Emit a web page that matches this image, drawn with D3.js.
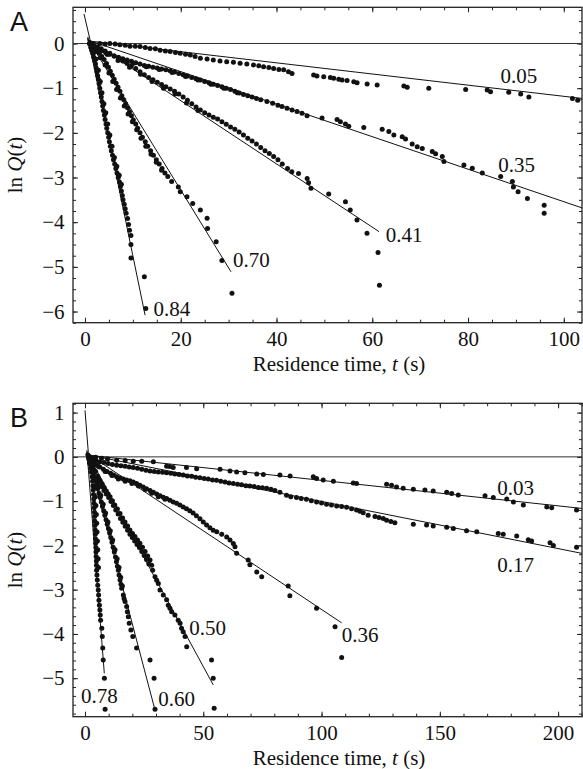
<!DOCTYPE html>
<html>
<head>
<meta charset="utf-8">
<script src="https://cdnjs.cloudflare.com/ajax/libs/d3/7.8.5/d3.min.js"></script>
<style>
  body { margin: 0; background: #fff; }
  svg text { font-family: "Liberation Serif", "Times New Roman", serif; }
</style>
</head>
<body>
<script>
// ---- panel A : points [t, lnQ] ----
var a005 = [[1.5,0.0],[3.1,0.0],[4.2,-0.01],[5.2,0.0],[6.3,-0.01],[7.3,-0.03],[8.4,-0.04],[9.4,-0.06],[10.5,-0.06],[11.5,-0.07],[12.6,-0.09],[13.6,-0.11],[14.7,-0.12],[15.7,-0.15],[16.8,-0.17],[17.8,-0.18],[18.9,-0.2],[19.9,-0.22],[21.0,-0.24],[22.0,-0.26],[23.0,-0.29],[24.1,-0.33],[25.5,-0.35],[26.8,-0.37],[28.2,-0.39],[29.6,-0.41],[31.0,-0.42],[32.4,-0.44],[33.8,-0.46],[35.2,-0.48],[36.3,-0.5],[37.3,-0.52],[38.4,-0.54],[39.4,-0.56],[40.5,-0.58],[41.5,-0.59],[42.5,-0.63],[43.24,-0.67],[47.76,-0.705],[48.45,-0.73],[49.86,-0.745],[51.25,-0.76],[51.95,-0.78],[53.0,-0.8],[53.7,-0.82],[54.74,-0.83],[56.14,-0.855],[56.83,-0.877],[58.93,-0.907],[61.02,-0.93],[66.6,-0.95],[67.3,-0.98],[71.8,-1.0],[79.5,-1.03],[84.0,-1.04],[84.7,-1.08],[88.5,-1.09],[91.0,-1.13],[92.7,-1.2],[101.8,-1.23],[102.9,-1.27]];

var a035 = [[1.0,0.0],[1.8,-0.06],[2.6,-0.11],[3.4,-0.16],[4.3,-0.2],[5.2,-0.24],[6.1,-0.28],[7.0,-0.31],[7.9,-0.34],[8.8,-0.37],[9.7,-0.4],[10.6,-0.43],[11.5,-0.46],[12.4,-0.49],[13.3,-0.51],[14.2,-0.53],[15.1,-0.55],[16.0,-0.57],[16.9,-0.59],[17.8,-0.61],[18.7,-0.64],[19.6,-0.67],[20.5,-0.7],[21.4,-0.73],[22.3,-0.76],[23.2,-0.79],[24.1,-0.82],[25.0,-0.85],[25.9,-0.88],[26.8,-0.91],[27.7,-0.94],[28.6,-0.97],[29.5,-1.0],[30.4,-1.03],[31.3,-1.07],[32.2,-1.11],[33.1,-1.14],[34.0,-1.17],[34.9,-1.2],[35.8,-1.23],[36.7,-1.26],[38.0,-1.3],[39.2,-1.34],[40.3,-1.38],[41.15,-1.41],[42.2,-1.45],[43.24,-1.49],[44.29,-1.52],[45.33,-1.56],[46.38,-1.62],[49.51,-1.67],[52.65,-1.7],[53.35,-1.75],[54.39,-1.8],[55.09,-1.85],[58.23,-1.88],[62.07,-1.92],[63.46,-1.97],[64.51,-2.05],[66.25,-2.09],[66.95,-2.14],[68.34,-2.25],[69.39,-2.31],[70.44,-2.35],[72.53,-2.42],[73.22,-2.47],[74.62,-2.53],[74.96,-2.64],[79.14,-2.72],[80.89,-2.79],[82.98,-2.9],[86.82,-2.98],[89.26,-3.09],[89.47,-3.21],[90.45,-3.32],[92.4,-3.47],[95.9,-3.62],[95.9,-3.8],
  [2.2,-0.1],[4.8,-0.24],[7.4,-0.35],[10.1,-0.44],[12.8,-0.52],[15.5,-0.58],[18.2,-0.65],[21.0,-0.74],[23.6,-0.82],[26.3,-0.91],[29.0,-1.0],[31.8,-1.1]];

var a041 = [[1.0,0.0],[1.8,-0.04],[2.6,-0.08],[3.4,-0.12],[4.2,-0.17],[5.2,-0.22],[6.1,-0.28],[7.0,-0.34],[7.9,-0.39],[8.8,-0.45],[9.7,-0.5],[10.6,-0.56],[11.5,-0.63],[12.4,-0.7],[13.3,-0.76],[14.2,-0.81],[15.1,-0.87],[16.0,-0.92],[16.9,-0.97],[17.8,-1.02],[18.7,-1.07],[19.6,-1.13],[20.5,-1.2],[21.4,-1.27],[22.3,-1.35],[23.2,-1.42],[24.1,-1.49],[25.0,-1.55],[25.9,-1.6],[26.8,-1.65],[27.7,-1.69],[28.6,-1.75],[29.5,-1.81],[30.4,-1.87],[31.3,-1.92],[32.2,-1.98],[33.1,-2.05],[34.0,-2.12],[34.9,-2.18],[35.8,-2.25],[36.7,-2.33],[37.6,-2.4],[38.5,-2.46],[39.4,-2.53],[40.3,-2.6],[41.2,-2.7],[42.3,-2.8],[43.2,-2.87],[44.6,-2.91],[46.4,-3.02],[46.7,-3.12],[47.2,-3.24],[50.9,-3.37],[54.4,-3.54],[55.4,-3.73],[56.8,-3.95],[58.9,-4.25],[61.2,-4.68],[61.5,-5.41],
  [2.2,-0.1],[4.6,-0.24],[6.9,-0.38],[9.3,-0.53],[11.6,-0.69],[14.0,-0.85],[16.4,-1.0],[18.8,-1.13],[21.2,-1.33],[23.6,-1.5]];

var a070 = [[1.0,0.0],[1.5,-0.05],[2.0,-0.1],[2.5,-0.16],[3.0,-0.22],[3.5,-0.29],[4.0,-0.36],[4.5,-0.45],[4.9,-0.53],[5.3,-0.62],[5.7,-0.71],[6.1,-0.8],[6.5,-0.89],[6.9,-0.98],[7.3,-1.07],[7.7,-1.17],[8.1,-1.26],[8.5,-1.35],[8.9,-1.44],[9.3,-1.53],[9.7,-1.62],[10.1,-1.71],[10.6,-1.8],[11.0,-1.9],[11.5,-2.0],[12.0,-2.1],[12.6,-2.2],[13.1,-2.3],[13.7,-2.4],[14.3,-2.5],[14.9,-2.6],[15.5,-2.7],[16.1,-2.8],[16.7,-2.9],[17.3,-2.98],[18.1,-3.09],[19.5,-3.21],[19.9,-3.32],[21.3,-3.43],[22.5,-3.58],[24.1,-3.73],[25.5,-3.91],[25.6,-4.14],[27.4,-4.44],[28.6,-4.86],[30.7,-5.59],
  [1.3,-0.1],[2.2,-0.18],[3.2,-0.32],[4.2,-0.48],[5.0,-0.66],[5.8,-0.85],[6.6,-1.03],[7.4,-1.22],[8.2,-1.4],[9.0,-1.58],[9.9,-1.75],[10.8,-1.93],[11.7,-2.12],[12.7,-2.3],[13.8,-2.48],[14.9,-2.66],[16.0,-2.84]];

var a084 = [[1.0,0.0],[1.2,-0.08],[1.4,-0.15],[1.6,-0.22],[1.8,-0.3],[2.0,-0.38],[2.2,-0.46],[2.35,-0.55],[2.5,-0.63],[2.65,-0.72],[2.8,-0.8],[2.95,-0.9],[3.1,-1.0],[3.25,-1.1],[3.4,-1.2],[3.55,-1.3],[3.7,-1.4],[3.85,-1.5],[4.05,-1.6],[4.2,-1.7],[4.4,-1.8],[4.55,-1.9],[4.75,-2.0],[4.95,-2.1],[5.1,-2.2],[5.3,-2.3],[5.5,-2.4],[5.75,-2.5],[5.95,-2.6],[6.2,-2.7],[6.45,-2.8],[6.7,-2.9],[6.95,-3.0],[7.2,-3.1],[7.4,-3.2],[7.6,-3.3],[7.8,-3.4],[7.95,-3.5],[8.2,-3.6],[8.4,-3.7],[8.6,-3.8],[8.9,-3.92],[9.1,-4.05],[9.3,-4.18],[9.6,-4.3],[9.6,-4.5],[9.6,-4.8],[12.4,-5.22],[12.7,-5.93],
  [1.5,-0.05],[1.9,-0.2],[2.3,-0.35],[2.8,-0.6],[3.2,-0.85],[3.55,-1.1],[3.95,-1.35],[4.35,-1.55],[4.75,-1.8],[5.2,-2.05],[5.65,-2.3],[6.15,-2.55],[6.65,-2.75],[7.15,-2.95],[7.6,-3.15]];

// fitted lines, [start, end] in data units
var fitsA = [
  [[-0.2,0.66],[1.3,-0.03]],
  [[0.6,0.15],[12.55,-6.08]],
  [[0.5,0.12],[30.5,-5.11]],
  [[0.5,0.1],[61.4,-4.21]],
  [[0.5,0.08],[103.8,-3.68]],
  [[0.5,0.06],[103.8,-1.23]]
];
var labelsA = [["0.05",86.8,-0.89],["0.35",86.3,-2.87],["0.41",62.8,-4.44],["0.70",30.9,-5.01],["0.84",14.3,-6.1]];
var xTicksA = [0,20,40,60,80,100];
var yTicksA = [-6,-5,-4,-3,-2,-1,0];

// ---- panel B ----
var b003 = [[2.0,0.0],[4.5,-0.01],[7.0,-0.03],[9.5,-0.05],[13.4,-0.075],[17.0,-0.08],[20.4,-0.097],[24.0,-0.1],[28.9,-0.11],[34.5,-0.21],[35.8,-0.22],[37.3,-0.24],[42.9,-0.24],[47.2,-0.27],[57.1,-0.28],[61.3,-0.32],[64.1,-0.34],[67.6,-0.36],[72.6,-0.39],[75.4,-0.4],[82.4,-0.41],[86.7,-0.43],[96.5,-0.45],[97.9,-0.49],[100.7,-0.52],[105.0,-0.55],[113.4,-0.59],[114.8,-0.6],[127.5,-0.62],[129.6,-0.64],[131.7,-0.68],[134.5,-0.71],[138.8,-0.73],[143.7,-0.75],[147.2,-0.77],[152.9,-0.8],[155.0,-0.83],[157.8,-0.86],[169.1,-0.88],[172.6,-0.92],[178.3,-0.95],[181.1,-1.02],[185.3,-1.09],[195.2,-1.13],[197.3,-1.15],[207.8,-1.2]];

var b017 = [[1.5,0.0],[3.0,-0.04],[4.6,-0.08],[6.3,-0.11],[8.0,-0.13],[9.8,-0.15],[11.6,-0.17],[13.4,-0.19],[15.2,-0.2],[17.0,-0.21],[18.7,-0.23],[20.4,-0.24],[22.2,-0.26],[24.0,-0.28],[25.8,-0.3],[27.5,-0.32],[29.3,-0.33],[31.0,-0.34],[32.8,-0.35],[34.5,-0.36],[36.3,-0.37],[38.0,-0.39],[39.8,-0.4],[41.5,-0.41],[43.3,-0.43],[45.1,-0.44],[46.8,-0.46],[48.6,-0.47],[50.4,-0.49],[52.1,-0.5],[53.9,-0.52],[55.6,-0.53],[57.4,-0.55],[59.2,-0.57],[60.9,-0.59],[62.7,-0.6],[64.5,-0.62],[66.2,-0.63],[68.0,-0.65],[69.7,-0.66],[71.5,-0.67],[73.3,-0.69],[75.0,-0.7],[76.8,-0.71],[78.6,-0.73],[80.3,-0.76],[82.4,-0.8],[85.2,-0.87],[87.0,-0.9],[89.4,-0.92],[91.4,-0.94],[93.6,-0.96],[95.7,-0.99],[97.9,-1.02],[100.0,-1.04],[102.1,-1.07],[104.2,-1.09],[106.4,-1.11],[108.5,-1.12],[110.6,-1.14],[112.7,-1.17],[114.8,-1.2],[116.2,-1.23],[117.6,-1.26],[119.7,-1.32],[122.6,-1.35],[124.3,-1.37],[126.1,-1.39],[127.5,-1.43],[129.3,-1.46],[131.0,-1.49],[138.8,-1.52],[144.4,-1.54],[147.2,-1.56],[152.9,-1.59],[155.7,-1.62],[161.3,-1.67],[165.6,-1.69],[174.7,-1.73],[176.8,-1.75],[182.5,-1.79],[187.4,-1.87],[188.8,-1.9],[196.6,-1.94],[198.0,-2.0],[207.8,-2.04]];

var b036 = [[1.5,0.0],[2.5,-0.05],[3.8,-0.12],[5.0,-0.18],[6.3,-0.23],[7.8,-0.28],[9.3,-0.33],[10.8,-0.37],[12.1,-0.41],[13.4,-0.45],[14.8,-0.48],[16.2,-0.5],[17.6,-0.52],[19.0,-0.54],[20.4,-0.57],[21.8,-0.6],[23.2,-0.64],[24.6,-0.68],[26.0,-0.72],[27.5,-0.76],[28.9,-0.8],[30.3,-0.84],[31.7,-0.88],[33.1,-0.91],[34.5,-0.94],[35.9,-0.98],[37.3,-1.02],[38.7,-1.05],[40.1,-1.09],[41.5,-1.13],[42.9,-1.17],[44.3,-1.22],[45.7,-1.27],[47.1,-1.33],[48.6,-1.4],[50.0,-1.47],[51.4,-1.54],[52.8,-1.6],[54.2,-1.66],[55.7,-1.69],[57.8,-1.75],[59.9,-1.81],[61.3,-1.88],[62.7,-1.96],[63.4,-2.03],[64.1,-2.18],[69.0,-2.33],[69.7,-2.44],[72.6,-2.6],[74.7,-2.71],[85.9,-2.92],[86.6,-3.14],[97.9,-3.42],[105.7,-3.84],[108.5,-4.53],
  [3.0,-0.1],[5.7,-0.22],[8.5,-0.33],[11.4,-0.42],[14.1,-0.5],[17.0,-0.55],[19.8,-0.6],[22.6,-0.66],[25.4,-0.74],[28.2,-0.82],[31.0,-0.9],[33.8,-0.96]];

var b050 = [[1.5,0.0],[2.5,-0.08],[3.5,-0.2],[4.5,-0.33],[5.4,-0.44],[6.3,-0.53],[7.2,-0.61],[8.1,-0.69],[9.0,-0.77],[9.8,-0.84],[10.6,-0.9],[11.6,-0.99],[12.6,-1.09],[13.7,-1.18],[14.8,-1.28],[15.9,-1.38],[16.9,-1.47],[18.0,-1.56],[19.0,-1.65],[20.1,-1.73],[21.1,-1.8],[22.2,-1.88],[23.2,-1.95],[24.3,-2.04],[25.4,-2.14],[26.5,-2.24],[27.5,-2.33],[28.2,-2.45],[28.6,-2.56],[29.6,-2.71],[30.3,-2.79],[31.0,-2.86],[31.7,-3.01],[33.1,-3.12],[34.5,-3.23],[35.2,-3.35],[35.9,-3.42],[36.6,-3.5],[38.0,-3.57],[39.4,-3.69],[40.2,-3.76],[40.8,-3.87],[41.5,-3.95],[42.3,-4.06],[43.0,-4.29],[53.5,-4.59],[54.2,-5.0],[54.6,-5.68],
  [2.0,-0.12],[3.0,-0.22],[4.0,-0.34],[5.0,-0.46],[6.0,-0.57],[7.0,-0.67],[8.0,-0.76],[9.0,-0.84],[10.0,-0.92],[11.0,-1.01],[12.0,-1.1],[13.0,-1.2],[14.0,-1.29],[15.0,-1.39],[16.0,-1.48],[17.0,-1.57],[18.0,-1.66],[19.0,-1.75],[20.0,-1.82],[21.0,-1.9],[22.0,-1.98],[23.0,-2.05],[24.0,-2.14],[25.0,-2.23],[26.0,-2.32],[27.0,-2.42]];

var b060 = [[1.5,0.0],[1.9,-0.08],[2.4,-0.17],[2.9,-0.26],[3.4,-0.35],[3.9,-0.44],[4.4,-0.53],[4.9,-0.62],[5.4,-0.72],[5.9,-0.82],[6.4,-0.92],[6.9,-1.02],[7.4,-1.12],[7.9,-1.22],[8.4,-1.32],[8.9,-1.42],[9.4,-1.52],[9.9,-1.62],[10.4,-1.72],[10.9,-1.82],[11.4,-1.93],[11.9,-2.04],[12.4,-2.15],[12.9,-2.26],[13.3,-2.37],[13.7,-2.47],[14.1,-2.56],[14.4,-2.67],[14.8,-2.78],[15.2,-2.88],[15.5,-2.97],[16.2,-3.12],[16.5,-3.2],[16.9,-3.27],[17.6,-3.38],[17.9,-3.5],[18.3,-3.61],[18.7,-3.76],[19.4,-3.91],[20.2,-4.06],[21.8,-4.32],[27.5,-4.59],[29.2,-5.0],[29.6,-5.7],
  [2.7,-0.12],[3.7,-0.3],[4.7,-0.48],[5.7,-0.67],[6.7,-0.87],[7.7,-1.07],[8.7,-1.27],[9.7,-1.47],[10.7,-1.67],[11.7,-1.88],[12.7,-2.1],[13.6,-2.3],[14.4,-2.5],[15.1,-2.72],[15.8,-2.92]];

var b078 = [[1.2,0.05],[1.6,-0.05],[2.0,-0.15],[2.4,-0.25],[2.7,-0.35],[3.0,-0.45],[3.2,-0.55],[3.35,-0.65],[3.5,-0.75],[3.6,-0.85],[3.7,-0.95],[3.8,-1.05],[3.9,-1.15],[4.0,-1.25],[4.05,-1.35],[4.1,-1.45],[4.2,-1.55],[4.3,-1.65],[4.35,-1.75],[4.4,-1.85],[4.5,-1.95],[4.6,-2.05],[4.65,-2.15],[4.7,-2.25],[4.8,-2.35],[4.85,-2.45],[4.9,-2.56],[5.05,-2.67],[5.2,-2.78],[5.4,-2.9],[5.6,-3.01],[5.75,-3.12],[5.9,-3.24],[6.1,-3.35],[6.3,-3.46],[6.45,-3.57],[6.6,-3.69],[7.1,-3.87],[7.3,-4.06],[7.5,-4.32],[7.7,-4.59],[8.2,-5.0],[8.5,-5.7],
  [2.0,-0.1],[3.0,-0.3],[3.6,-0.5],[4.1,-0.7],[4.4,-0.9],[4.6,-1.1],[4.8,-1.3],[4.95,-1.5],[5.1,-1.7],[5.25,-1.9],[5.4,-2.1],[5.55,-2.3],[5.7,-2.5]];

var fitsB = [
  [[0.0,1.05],[1.4,0.1]],
  [[0.8,0.15],[8.16,-4.89]],
  [[0.8,0.12],[29.6,-5.72]],
  [[0.8,0.1],[54.2,-5.15]],
  [[0.8,0.08],[108.5,-3.75]],
  [[0.8,0.05],[210.1,-2.18]],
  [[0.8,0.04],[210.1,-1.165]]
];
var labelsB = [["0.03",174.3,-0.865],["0.17",174.3,-2.6],["0.36",108.5,-4.18],["0.50",44.1,-4.02],["0.60",31,-5.63],["0.78",-1.7,-5.55]];
var xTicksB = [0,50,100,150,200];
var yTicksB = [-5,-4,-3,-2,-1,0,1];

var width = 583, height = 769;
var svg = d3.select("body").append("svg")
    .attr("width", width)
    .attr("height", height);

var fmt = d3.format("d");
var serif = '"Liberation Serif", "Times New Roman", serif';

function drawPanel(box, xDom, yDom, xMajor, xMinorStep, yMajor, yMinorStep, series, fits, labels, letter) {
  var x = d3.scaleLinear().domain(xDom).range([box.left, box.right]);
  var y = d3.scaleLinear().domain(yDom).range([box.bottom, box.top]);

  var xMinor = d3.range(Math.ceil(xDom[0] / xMinorStep) * xMinorStep, xDom[1], xMinorStep);
  var yMinor = d3.range(Math.ceil(yDom[0] / yMinorStep) * yMinorStep, yDom[1], yMinorStep);

  var g = svg.append("g");

  // ticks on all four sides, pointing inward; labels only bottom and left
  var sides = [
    [d3.axisBottom, x, "translate(0," + box.bottom + ")", xMinor, xMajor, true],
    [d3.axisTop, x, "translate(0," + box.top + ")", xMinor, xMajor, false],
    [d3.axisLeft, y, "translate(" + box.left + ",0)", yMinor, yMajor, true],
    [d3.axisRight, y, "translate(" + box.right + ",0)", yMinor, yMajor, false]
  ];
  sides.forEach(function(s) {
    g.append("g")
      .attr("transform", s[2])
      .call(s[0](s[1]).tickValues(s[3]).tickSize(-3).tickFormat(""))
      .call(function(a) { a.select(".domain").remove(); });
    g.append("g")
      .attr("transform", s[2])
      .call(s[0](s[1]).tickValues(s[4]).tickSize(-5).tickPadding(8.5).tickFormat(s[5] ? fmt : ""))
      .attr("font-size", 21)
      .attr("font-family", serif)
      .call(function(a) { a.select(".domain").remove(); });
  });
  g.selectAll(".tick line").attr("stroke", "#222").attr("stroke-width", 1);
  g.selectAll(".tick text").attr("fill", "#111");

  // frame
  g.append("rect")
    .attr("x", box.left).attr("y", box.top)
    .attr("width", box.right - box.left).attr("height", box.bottom - box.top)
    .attr("fill", "none").attr("stroke", "#222").attr("stroke-width", 1.3);

  var line = d3.line()
      .x(function(d) { return x(d[0]); })
      .y(function(d) { return y(d[1]); });

  // zero line
  g.append("path")
    .datum([[xDom[0], 0], [xDom[1], 0]])
    .attr("d", line)
    .attr("fill", "none").attr("stroke", "#333").attr("stroke-width", 1);

  // fitted lines
  g.selectAll(null).data(fits).enter().append("path")
    .attr("d", line)
    .attr("fill", "none").attr("stroke", "#111").attr("stroke-width", 1);

  // data points
  series.forEach(function(s) {
    g.selectAll(null).data(s).enter().append("circle")
      .attr("cx", function(d) { return x(d[0]); })
      .attr("cy", function(d) { return y(d[1]); })
      .attr("r", 2.5)
      .attr("fill", "#111");
  });

  // rate labels
  g.selectAll(null).data(labels).enter().append("text")
    .attr("x", function(d) { return x(d[1]); })
    .attr("y", function(d) { return y(d[2]); })
    .attr("font-size", 21)
    .attr("fill", "#111")
    .text(function(d) { return d[0]; });

  // axis titles
  g.append("text")
    .attr("x", 339)
    .attr("y", box.bottom + 48)
    .attr("text-anchor", "middle")
    .attr("font-size", 21)
    .attr("fill", "#111")
    .html('Residence time, <tspan font-style="italic">t</tspan> (s)');

  g.append("text")
    .attr("transform", "translate(22," + ((box.top + box.bottom) / 2) + ") rotate(-90)")
    .attr("text-anchor", "middle")
    .attr("font-size", 21)
    .attr("fill", "#111")
    .html('ln <tspan font-style="italic">Q</tspan>(<tspan font-style="italic">t</tspan>)');

  g.append("text")
    .attr("x", 10)
    .attr("y", box.top + 24)
    .attr("font-size", 27)
    .attr("fill", "#111")
    .style("font-family", '"Liberation Sans", Arial, sans-serif')
    .text(letter);
}

drawPanel({left: 73, right: 582, top: 7.3, bottom: 322.7},
  [-2.5, 103.8], [-6.25, 0.81], xTicksA, 5, yTicksA, 0.25,
  [a005, a035, a041, a070, a084], fitsA, labelsA, "A");

drawPanel({left: 73, right: 582, top: 403.3, bottom: 716.7},
  [-5.07, 210.1], [-5.87, 1.21], xTicksB, 10, yTicksB, 0.2,
  [b003, b017, b036, b050, b060, b078], fitsB, labelsB, "B");
</script>
</body>
</html>
